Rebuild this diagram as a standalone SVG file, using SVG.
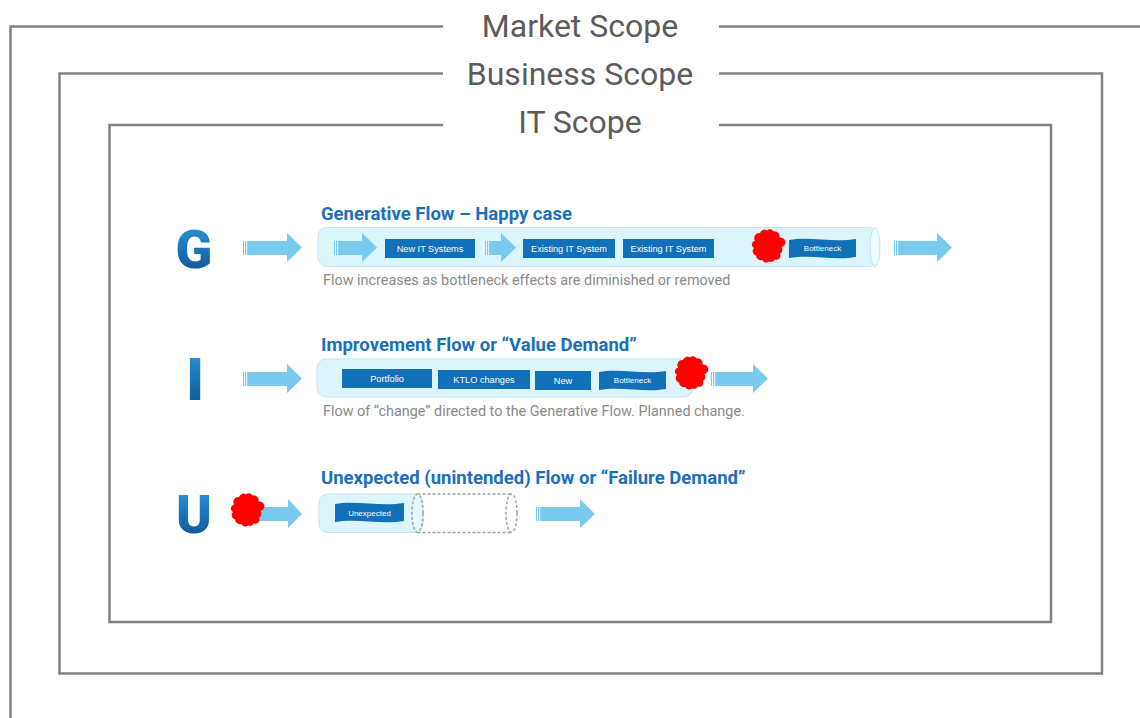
<svg xmlns="http://www.w3.org/2000/svg" width="1140" height="718" viewBox="0 0 1140 718">
<style>
.frame{fill:none;stroke:#818181;stroke-width:2.5}
.scope{font-family:Roboto,"Liberation Sans",sans-serif;font-size:32px;fill:#5c5c5c;text-anchor:middle}
.title{font-family:Roboto,"Liberation Sans",sans-serif;font-size:18.5px;font-weight:bold;fill:#1b70bb}
.sub{font-family:Roboto,"Liberation Sans",sans-serif;font-size:14.4px;fill:#8a8a8a}
.big{font-family:Roboto,"Liberation Sans",sans-serif;font-weight:900;fill:url(#lg);text-anchor:middle}
.tube{fill:#dcf5fd;stroke:#c3e4ef;stroke-width:1}
.cap{fill:#ebfbff;stroke:#c3e4ef;stroke-width:1}
.box{fill:#1270b8}
.bt{font-family:"Liberation Sans",Arial,sans-serif;fill:#ffffff;text-anchor:middle}
.arrow{fill:#7ac9ee}
.stripe{stroke:#ffffff;stroke-width:0.9}
.blob{fill:#ff0000}
.dash{fill:none;stroke:#a3a3a3;stroke-width:1.5;stroke-dasharray:3 2}
</style>
<defs>
<linearGradient id="lg" x1="0" y1="0" x2="0" y2="1">
<stop offset="0" stop-color="#2a9de2"/>
<stop offset="1" stop-color="#0b4c8a"/>
</linearGradient>
<path id="blob" d="M13.5 1 A5 5 0 0 1 12 8 A4 4 0 0 1 7 13.5 A5 5 0 0 1 1 15.5 A4 4 0 0 1 -5.5 14 A5 5 0 0 1 -12 9.5 A4.5 4.5 0 0 1 -14 2 A4 4 0 0 1 -13 -5.5 A5 5 0 0 1 -8 -13 A4.5 4.5 0 0 1 -1 -15.5 A4 4 0 0 1 5.5 -14.5 A5 5 0 0 1 11.5 -8.5 A4.5 4.5 0 0 1 13.5 1 Z"/>
</defs>

<g id="scopes">
<path class="frame" d="M443 26.5 H10.5 V718 M719 26.5 H1141"/>
<path class="frame" d="M443 73.5 H59.5 V673.5 H1102 V73.5 H719"/>
<path class="frame" d="M443 125 H109.5 V622 H1051 V125 H719"/>
<text class="scope" x="580" y="37">Market Scope</text>
<text class="scope" x="580" y="85">Business Scope</text>
<text class="scope" x="580" y="133">IT Scope</text>
</g>

<g id="row-g">
<text class="big" x="194" y="268" font-size="54">G</text>
<text class="title" x="321" y="220">Generative Flow – Happy case</text>
<rect class="tube" x="318" y="227.5" width="560" height="39" rx="9"/>
<ellipse class="cap" cx="875" cy="247" rx="5" ry="19.5"/>
<rect class="box" x="385" y="239" width="90" height="19"/>
<text class="bt" x="430" y="251.5" font-size="9.2">New IT Systems</text>
<rect class="box" x="523" y="239" width="92" height="19"/>
<text class="bt" x="569" y="251.5" font-size="9.2">Existing IT System</text>
<rect class="box" x="623" y="239" width="91" height="19"/>
<text class="bt" x="668.5" y="251.5" font-size="9.2">Existing IT System</text>
<path class="box" d="M789 240 C810 236,832 243,856 239 V257 C834 261,812 254,789 258 Z"/>
<text class="bt" x="822.5" y="251" font-size="8">Bottleneck</text>
<text class="sub" x="323" y="285">Flow increases as bottleneck effects are diminished or removed</text>
</g>

<g id="row-i">
<text class="big" x="195" y="400" font-size="60">I</text>
<text class="title" x="321" y="351">Improvement Flow or “Value Demand”</text>
<rect class="tube" x="317" y="359" width="376" height="38" rx="9"/>
<rect class="box" x="342" y="369" width="90" height="19"/>
<text class="bt" x="387" y="381.5" font-size="9.2">Portfolio</text>
<rect class="box" x="438" y="370" width="92" height="19"/>
<text class="bt" x="484" y="382.5" font-size="9.2">KTLO changes</text>
<rect class="box" x="535" y="371" width="56" height="19"/>
<text class="bt" x="563" y="383.5" font-size="9.2">New</text>
<path class="box" d="M599 372 C620 368,643 375,666 371 V389 C644 393,621 386,599 390 Z"/>
<text class="bt" x="632.5" y="383" font-size="8">Bottleneck</text>
<text class="sub" x="323" y="416">Flow of “change” directed to the Generative Flow. Planned change.</text>
</g>

<g id="row-u">
<text class="big" x="194" y="533" font-size="54">U</text>
<text class="title" x="321" y="484">Unexpected (unintended) Flow or “Failure Demand”</text>
<rect class="tube" x="319" y="494" width="104" height="38.5" rx="9"/>
<path class="dash" d="M417.5 494 H511.5 M417.5 532.5 H511.5"/>
<ellipse cx="417.5" cy="513.2" rx="5.5" ry="19.2" fill="#e4f8fe" stroke="#a3a3a3" stroke-width="1.5" stroke-dasharray="3 2"/>
<ellipse class="dash" cx="511.5" cy="513.2" rx="5.5" ry="19.2"/>
<path class="box" d="M335 504 C356 500,380 507,404 503 V521 C381 525,357 518,335 522 Z"/>
<text class="bt" x="369.5" y="515.5" font-size="8">Unexpected</text>
</g>

<g id="connectors">
<path class="arrow" d="M243 241 H287 V233 L302 247.5 L287 262 V255 H243 Z"/>
<path class="stripe" d="M244.5 241 V255 M246.7 241 V255"/>
<path class="arrow" d="M334 241 H362 V233 L377 247.5 L362 262 V255 H334 Z"/>
<path class="stripe" d="M335.5 241 V255 M337.7 241 V255"/>
<path class="arrow" d="M485 241 H501 V233 L516 247.5 L501 262 V255 H485 Z"/>
<path class="stripe" d="M486.5 241 V255 M488.7 241 V255"/>
<path class="arrow" d="M894 241 H937 V233 L952 247.5 L937 262 V255 H894 Z"/>
<path class="stripe" d="M895.5 241 V255 M897.7 241 V255"/>
<path class="arrow" d="M243 372 H287 V364 L302 378.5 L287 393 V386 H243 Z"/>
<path class="stripe" d="M244.5 372 V386 M246.7 372 V386"/>
<path class="arrow" d="M711 372 H753 V364 L768 378.5 L753 393 V386 H711 Z"/>
<path class="stripe" d="M712.5 372 V386 M714.7 372 V386"/>
<path class="arrow" d="M255 507 H288 V499 L302 514 L288 528 V521 H255 Z"/>
<path class="arrow" d="M536 507 H580 V499 L595 514 L580 528 V521 H536 Z"/>
<path class="stripe" d="M537.5 507 V521 M539.7 507 V521"/>
</g>

<g id="blockers">
<use href="#blob" x="247" y="510" class="blob"/>
<use href="#blob" x="768" y="246" class="blob"/>
<use href="#blob" x="691" y="373" class="blob"/>
</g>
</svg>
